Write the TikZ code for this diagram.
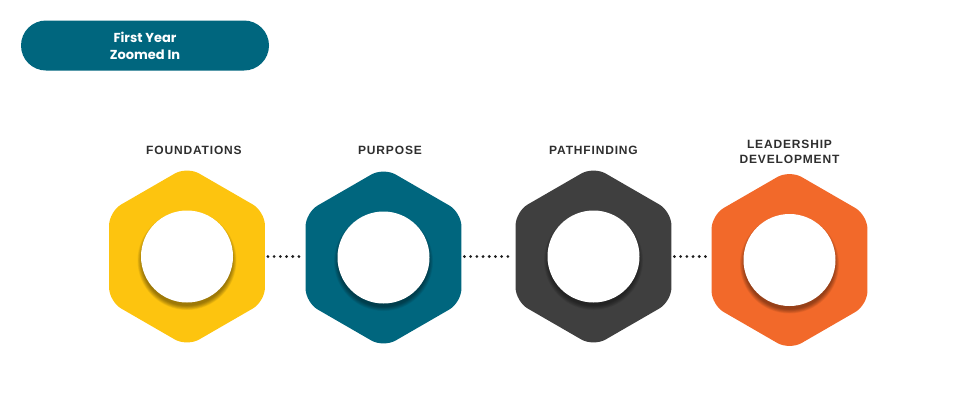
\documentclass[tikz,border=0pt]{standalone}
\usepackage{fontspec}
\setmainfont{Liberation Sans}
\newfontfamily\labelfont[LetterSpace=7]{Liberation Sans}
\newfontfamily\pillfont{Poppins}
\usetikzlibrary{shapes.geometric,calc}
\definecolor{cyellow}{HTML}{FDC40F}
\definecolor{cteal}{HTML}{00667E}
\definecolor{cgray}{HTML}{3F3F3F}
\definecolor{corange}{HTML}{F2692A}
\definecolor{ctext}{HTML}{2E2E2E}
\definecolor{cdots}{HTML}{1E1E1E}
\tikzset{
  hexbox/.style={regular polygon, regular polygon sides=6, regular polygon rotate=30, minimum size=180pt,
    inner sep=0pt, outer sep=0pt, rounded corners=14pt, draw=none, fill=#1},
  stagelabel/.style={font=\labelfont\bfseries\fontsize{12}{15}\selectfont, text=ctext, align=center, inner sep=0pt},
  dotline/.style={draw=cdots, line width=3.1pt, line cap=round, dash pattern=on 0pt off 6.2pt},
  pill/.style={rounded corners=25pt, fill=cteal, draw=none, minimum width=248pt, minimum height=50pt, inner sep=0pt,
    text=white, align=center, font=\pillfont\bfseries\fontsize{13}{17}\selectfont},
}
\newcommand{\holecircle}[2]{%
  \foreach \k in {0,...,7}{
    \fill[black, opacity=0.055] ($(#1)+(0,4)$) circle[radius={49.5-0.6*\k}];
  }
  \node[circle, fill=white, minimum size=92pt, inner sep=0pt] (#2) at (#1) {};
}
\begin{document}
\begin{tikzpicture}[x=1pt,y=-1pt]
\useasboundingbox (0,0) rectangle (959,400);
\node[pill] (title) at (145,45.5) {First Year\\Zoomed In};

\node[hexbox=cyellow] (h1) at (187,256.5) {};
\node[hexbox=cteal]   (h2) at (383.5,257.5) {};
\node[hexbox=cgray]   (h3) at (593.5,256.5) {};
\node[hexbox=corange] (h4) at (789.5,260) {};

\holecircle{h1}{c1}
\holecircle{h2}{c2}
\holecircle{h3}{c3}
\holecircle{h4}{c4}

\coordinate (dy) at (0,256.5);
\path[dotline] ($(h1.east |- dy)+(3,0)$) -- ($(h2.west |- dy)+(-2,0)$);
\path[dotline] ($(h2.east |- dy)+(3,0)$) -- ($(h3.west |- dy)+(-2,0)$);
\path[dotline] ($(h3.east |- dy)+(3,0)$) -- ($(h4.west |- dy)+(-2,0)$);

\node[stagelabel] (l1) at (194,150) {FOUNDATIONS};
\node[stagelabel] (l2) at (390,150) {PURPOSE};
\node[stagelabel] (l3) at (593.5,150) {PATHFINDING};
\node[stagelabel] (l4) at (789.5,151.5) {LEADERSHIP\\DEVELOPMENT};
\end{tikzpicture}
\end{document}
